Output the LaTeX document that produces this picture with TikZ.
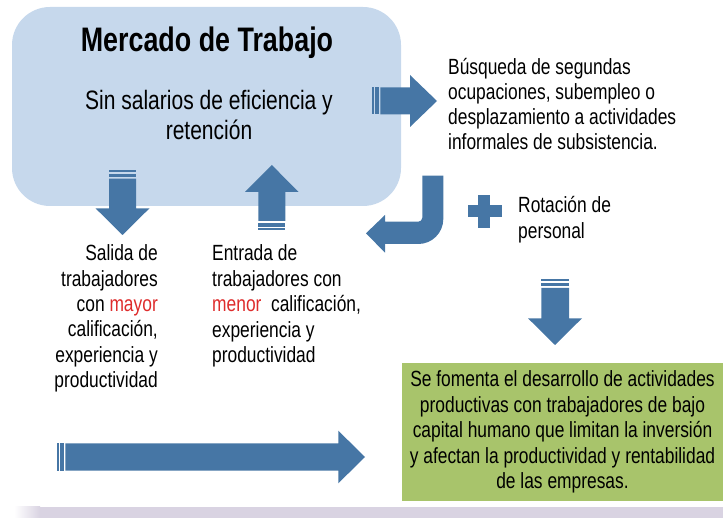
\documentclass[tikz,border=0pt]{standalone}
\usepackage{fontspec}
\setmainfont{Liberation Sans}[FakeStretch=0.79]
\definecolor{boxblue}{RGB}{198,216,236}
\definecolor{arrowblue}{RGB}{70,118,165}
\definecolor{boxgreen}{RGB}{168,196,107}
\definecolor{band}{RGB}{217,211,226}
\definecolor{redtxt}{RGB}{222,44,44}
\begin{document}
\begin{tikzpicture}[x=1pt,y=-1pt,
  txt/.style={inner sep=0pt, font=\fontsize{22}{25.4}\selectfont},
  blockarrow/.style={fill=arrowblue}]
\useasboundingbox (0,0) rectangle (723,518);
% bottom band
\shade[left color=white, right color=band] (14,506.7) rectangle (40,518);
\fill[band] (39.5,506.7) rectangle (723,518);
% main box
\node[fill=boxblue, rounded corners=38pt, minimum width=389pt, minimum height=199pt, inner sep=0pt] (mercado) at (206.5,106.5) {};
\node[inner sep=0pt, font=\bfseries\fontsize{34}{40}\selectfont] (title) at (207,43) {Mercado de Trabajo};
\node[txt, align=center, font=\fontsize{26.6}{30}\selectfont] (sub) at (209,115) {Sin salarios de eficiencia y\\retención};
% down arrow (salida)
\fill[blockarrow] (109,170) rectangle (136,172);
\fill[blockarrow] (109,173.7) rectangle (136,177);
\fill[blockarrow] (109,178.7) -- (136,178.7) -- (136,208.3) -- (149.5,208.3) -- (122.5,235) -- (95.5,208.3) -- (109,208.3) -- cycle;
% up arrow (entrada)
\fill[blockarrow] (258.3,228.3) rectangle (285.3,230);
\fill[blockarrow] (258.3,223.3) rectangle (285.3,226.7);
\fill[blockarrow] (258.3,221) -- (285.3,221) -- (285.3,192) -- (298.6,192) -- (271.8,165) -- (245,192) -- (258.3,192) -- cycle;
% right arrow (top)
\fill[blockarrow] (371.7,87.3) rectangle (373.7,114.3);
\fill[blockarrow] (375,87.3) rectangle (378.7,114.3);
\fill[blockarrow] (380.3,87.3) -- (410,87.3) -- (410,75) -- (437,101) -- (410,127) -- (410,114.3) -- (380.3,114.3) -- cycle;
% curved arrow
\fill[blockarrow] (422.3,175.7) -- (443.3,175.7) -- (443.3,219) .. controls (443.3,232.8) and (432.1,244) .. (418.3,244) -- (385,244) -- (385,252.7) -- (366,233.3) -- (385,215) -- (385,221.7) -- (418.3,221.7) .. controls (420.5,221.7) and (422.3,219.9) .. (422.3,217.7) -- cycle;
% plus
\fill[blockarrow] (468,205) rectangle (502,216.7);
\fill[blockarrow] (478.3,195) rectangle (490,228);
% right down arrow
\fill[blockarrow] (541.3,279.3) rectangle (569,281.3);
\fill[blockarrow] (541.3,283) rectangle (569,286.3);
\fill[blockarrow] (541.3,288) -- (569,288) -- (569,318.3) -- (582,318.3) -- (555,345) -- (528,318.3) -- (541.3,318.3) -- cycle;
% bottom arrow
\fill[blockarrow] (56.7,443.3) rectangle (58.7,470.7);
\fill[blockarrow] (60.3,443.3) rectangle (63.7,470.7);
\fill[blockarrow] (65.4,443.3) -- (338.3,443.3) -- (338.3,430.7) -- (365,457) -- (338.3,483.3) -- (338.3,470.7) -- (65.4,470.7) -- cycle;
% texts
\node[txt, align=left, anchor=west, font=\fontsize{22}{25}\selectfont] (busq) at (448,104.5) {Búsqueda de segundas\\ocupaciones, subempleo o\\desplazamiento a actividades\\informales de subsistencia.};
\node[txt, align=left, anchor=west] (rot) at (518,219.5) {Rotación de\\personal};
\node[txt, align=right, anchor=east] (salida) at (158,318.5) {Salida de\\trabajadores\\con \textcolor{redtxt}{mayor}\\calificación,\\experiencia y\\productividad};
\node[txt, align=left, anchor=west] (entrada) at (212,306) {Entrada de\\trabajadores con\\\textcolor{redtxt}{menor}\ \ calificación,\\experiencia y\\productividad};
% green box
\node[txt, fill=boxgreen, minimum width=321pt, minimum height=138pt, align=center] (green) at (562.5,432) {Se fomenta el desarrollo de actividades\\productivas con trabajadores de bajo\\capital humano que limitan la inversión\\y afectan la productividad y rentabilidad\\de las empresas.};
\end{tikzpicture}
\end{document}
